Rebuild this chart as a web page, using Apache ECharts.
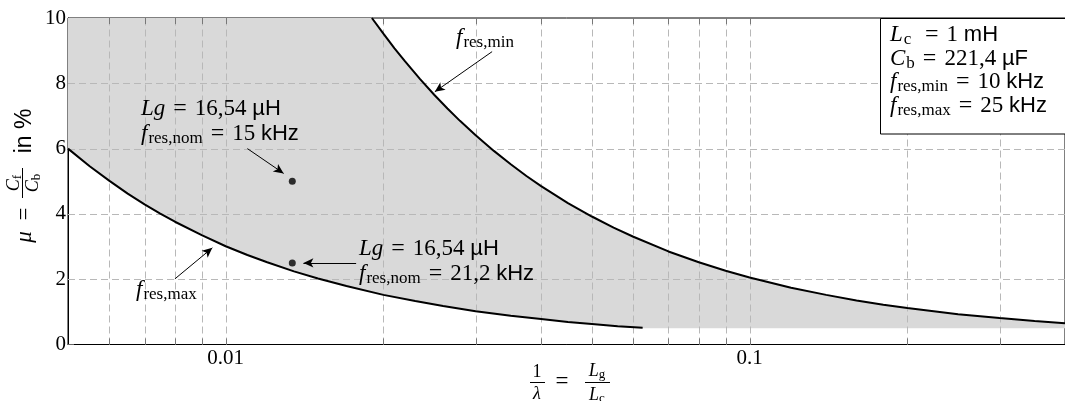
<!DOCTYPE html>
<html>
<head>
<meta charset="utf-8">
<script src="https://cdn.jsdelivr.net/npm/echarts@6/dist/echarts.min.js"></script>
<style>
html, body { margin: 0; padding: 0; background: #fff; }
#chart { width: 1065px; height: 401px; }
</style>
</head>
<body>
<div id="chart"></div>
<script>
// curves (x = Lg/Lc, mu in %)
var fMaxX = [0.005, 0.0055, 0.006, 0.0065, 0.007, 0.0075, 0.008, 0.009, 0.01, 0.011, 0.012, 0.0135, 0.015, 0.017, 0.02, 0.023, 0.026, 0.03, 0.035, 0.04, 0.045, 0.05, 0.056, 0.0625]
var fMaxMu = [6.00, 5.46, 5.01, 4.62, 4.29, 4.01, 3.76, 3.35, 3.01, 2.74, 2.52, 2.24, 2.02, 1.79, 1.52, 1.33, 1.18, 1.02, 0.88, 0.78, 0.69, 0.63, 0.56, 0.51]
var fMinX = [0.01901, 0.02, 0.021, 0.022, 0.0235, 0.025, 0.0265, 0.028, 0.03, 0.0325, 0.035, 0.0375, 0.04, 0.045, 0.05, 0.055, 0.06, 0.07, 0.08, 0.09, 0.1, 0.12, 0.14, 0.16, 0.18, 0.2, 0.25, 0.3, 0.35, 0.4]
var fMinMu = [10.0, 9.52, 9.07, 8.67, 8.13, 7.65, 7.23, 6.85, 6.41, 5.93, 5.52, 5.16, 4.85, 4.33, 3.92, 3.58, 3.30, 2.85, 2.52, 2.26, 2.05, 1.74, 1.52, 1.35, 1.22, 1.12, 0.93, 0.81, 0.72, 0.65]
var bandCeil = 10
var bandFloor = 0.5
var nomX = [0.0134, 0.0134]
var nomMu = [5.0, 2.5]

// axes
var xMin = 0.005
var xMax = 0.4
var xGridVals = [0.006, 0.007, 0.008, 0.009, 0.01, 0.02, 0.03, 0.04, 0.05, 0.06, 0.07, 0.08, 0.09, 0.1, 0.2, 0.3]
var xTickVals = [0.01, 0.1]
var xTickLabels = ['0.01', '0.1']
var yGridVals = [2, 4, 6, 8]

// annotation arrows [from, to] in data units
var arrows = [
  [[0.0110, 6.0], [0.0129, 5.24]],
  [[0.01774, 2.5], [0.01407, 2.5]],
  [[0.0080, 2.01], [0.00943, 2.96]],
  [[0.03225, 8.97], [0.02507, 7.74]]
]

var SERIF = '"Liberation Serif", serif'
var SANS = '"Liberation Sans", sans-serif'
var GRIDCOL = '#b8b8b8'

var rich = {
  m: { fontFamily: SERIF, fontStyle: 'italic', fontSize: 23, color: '#000' },
  r: { fontFamily: SERIF, fontSize: 23, color: '#000' },
  e: { fontFamily: SERIF, fontSize: 24, color: '#000', padding: [0, 8, 0, 8] },
  s: { fontFamily: SERIF, fontSize: 17, color: '#000', padding: [10, 0, 0, 1] },
  u: { fontFamily: SANS, fontSize: 22, color: '#000' }
}
var richSmall = {
  m: { fontFamily: SERIF, fontStyle: 'italic', fontSize: 18, color: '#000' },
  r: { fontFamily: SERIF, fontSize: 18, color: '#000' },
  s: { fontFamily: SERIF, fontSize: 13, color: '#000', padding: [7, 0, 0, 0] }
}

function txt (x, y, text, opts) {
  return {
    type: 'text', x: x, y: y, z: 120,
    style: Object.assign({ text: text, rich: rich, align: 'left', verticalAlign: 'middle', fill: '#000' }, opts || {})
  }
}

function zip (a, b) {
  return a.map(function (v, i) { return [v, b[i]] })
}

var chart = echarts.init(document.getElementById('chart'))

var option = {
  animation: false,
  grid: { left: 68, top: 18, right: -7, bottom: 56.5, show: true, borderColor: '#000', borderWidth: 1, backgroundColor: 'transparent' },
  xAxis: {
    type: 'log', logBase: 10, min: xMin, max: xMax,
    axisLine: { lineStyle: { color: '#000', width: 1 } },
    axisTick: { show: false },
    splitLine: { show: false },
    axisLabel: {
      color: '#000', fontFamily: SERIF, fontSize: 21, margin: 3,
      showMinLabel: false, showMaxLabel: false,
      formatter: function (v) {
        for (var i = 0; i < xTickVals.length; i++) {
          if (Math.abs(v / xTickVals[i] - 1) < 1e-6) return xTickLabels[i]
        }
        return ''
      }
    }
  },
  yAxis: {
    type: 'value', min: 0, max: 10, interval: 2,
    axisLine: { show: true, lineStyle: { color: '#000', width: 1 } },
    axisTick: { show: true, inside: true, length: 6, lineStyle: { color: '#666' } },
    splitLine: { show: false },
    axisLabel: { color: '#000', fontFamily: SERIF, fontSize: 21, margin: 2 }
  },
  series: [
    {
      // shaded feasible region
      type: 'custom', z: 1, silent: true,
      data: [[xMin, bandCeil]],
      renderItem: function (params, api) {
        var pts = []
        var i
        pts.push(api.coord([fMaxX[0], bandCeil]))
        pts.push(api.coord([fMinX[0], bandCeil]))
        for (i = 0; i < fMinX.length; i++) pts.push(api.coord([fMinX[i], fMinMu[i]]))
        pts.push(api.coord([fMinX[fMinX.length - 1], bandFloor]))
        pts.push(api.coord([fMaxX[fMaxX.length - 1], bandFloor]))
        for (i = fMaxX.length - 1; i >= 0; i--) pts.push(api.coord([fMaxX[i], fMaxMu[i]]))
        return { type: 'polygon', shape: { points: pts }, style: { fill: '#d9d9d9' } }
      }
    },
    {
      // vertical grid + minor ticks
      type: 'custom', z: 2, silent: true,
      data: xGridVals.map(function (v) { return [v, 0] }),
      renderItem: function (params, api) {
        var cs = params.coordSys
        var x = Math.round(api.coord([api.value(0), 0])[0]) + 0.5
        var b = cs.y + cs.height
        return {
          type: 'group',
          children: [
            { type: 'line', shape: { x1: x, y1: b, x2: x, y2: cs.y }, style: { stroke: GRIDCOL, lineWidth: 1, lineDash: [7, 4] } },
            { type: 'line', shape: { x1: x, y1: b, x2: x, y2: b - 6 }, style: { stroke: '#777', lineWidth: 1 } },
            { type: 'line', shape: { x1: x, y1: cs.y, x2: x, y2: cs.y + 6 }, style: { stroke: '#777', lineWidth: 1 } }
          ]
        }
      }
    },
    {
      // horizontal grid
      type: 'custom', z: 2, silent: true,
      data: yGridVals.map(function (v) { return [xMin, v] }),
      renderItem: function (params, api) {
        var cs = params.coordSys
        var y = Math.round(api.coord([xMin, api.value(1)])[1]) + 0.5
        return { type: 'line', shape: { x1: cs.x, y1: y, x2: cs.x + cs.width, y2: y }, style: { stroke: GRIDCOL, lineWidth: 1, lineDash: [7, 4] } }
      }
    },
    {
      name: 'fres,max', type: 'line', z: 3, silent: true, showSymbol: false,
      data: zip(fMaxX, fMaxMu),
      lineStyle: { color: '#000', width: 2 }
    },
    {
      name: 'fres,min', type: 'line', z: 3, silent: true, showSymbol: false,
      data: zip(fMinX, fMinMu),
      lineStyle: { color: '#000', width: 2 }
    },
    {
      name: 'nominal', type: 'scatter', z: 4, silent: true,
      data: zip(nomX, nomMu),
      symbolSize: 7,
      itemStyle: { color: '#000' },
      markLine: {
        silent: true, animation: false,
        symbol: ['none', 'arrow'], symbolSize: [7, 10],
        label: { show: false },
        lineStyle: { color: '#000', width: 1, type: 'solid' },
        data: arrows.map(function (a) { return [{ coord: a[0] }, { coord: a[1] }] })
      }
    }
  ],
  graphic: [
    // parameter box
    { type: 'rect', z: 110, shape: { x: 880.5, y: 18.5, width: 220, height: 115.5 }, style: { fill: '#fff', stroke: '#000', lineWidth: 1 } },
    txt(890, 35, '{m|L}{s|c}{r| }{e|=}{r|1 }{u|mH}'),
    txt(890, 58.5, '{m|C}{s|b}{e|=}{r|221,4 }{u|µF}'),
    txt(890, 82, '{m|f}{s|res,min}{e|=}{r|10 }{u|kHz}'),
    txt(890, 105.5, '{m|f}{s|res,max}{e|=}{r|25 }{u|kHz}'),

    // annotations
    txt(141, 109, '{m|Lg}{e|=}{r|16,54 }{u|µH}'),
    txt(141, 134, '{m|f}{s|res,nom}{e|=}{r|15 }{u|kHz}'),
    txt(359, 249, '{m|Lg}{e|=}{r|16,54 }{u|µH}'),
    txt(359, 273.5, '{m|f}{s|res,nom}{e|=}{r|21,2 }{u|kHz}'),
    txt(136, 290, '{m|f}{s|res,max}'),
    txt(456, 38, '{m|f}{s|res,min}'),

    // x axis title: 1/lambda = Lg/Lc
    txt(537, 372, '{r|1}', { rich: richSmall, align: 'center' }),
    { type: 'line', z: 120, shape: { x1: 530, y1: 382.5, x2: 545, y2: 382.5 }, style: { stroke: '#000', lineWidth: 1 } },
    txt(537, 394, '{m|λ}', { rich: richSmall, align: 'center' }),
    txt(562, 382, '{r|=}', { align: 'center' }),
    txt(597, 371, '{m|L}{s|g}', { rich: richSmall, align: 'center' }),
    { type: 'line', z: 120, shape: { x1: 585, y1: 382.5, x2: 610, y2: 382.5 }, style: { stroke: '#000', lineWidth: 1 } },
    txt(597, 395, '{m|L}{s|c}', { rich: richSmall, align: 'center' }),

    // y axis title: mu = Cf/Cb in %
    {
      type: 'group', x: 25, y: 175, rotation: Math.PI / 2, z: 120,
      children: [
        { type: 'text', x: -62, y: 0, style: { text: 'μ', font: 'italic 23px "Liberation Serif"', align: 'center', verticalAlign: 'middle', fill: '#000' } },
        { type: 'text', x: -39, y: 0, style: { text: '=', font: '23px "Liberation Serif"', align: 'center', verticalAlign: 'middle', fill: '#000' } },
        { type: 'text', x: -8, y: -11, style: { text: '{m|C}{s|f}', rich: richSmall, align: 'center', verticalAlign: 'middle', fill: '#000' } },
        { type: 'line', shape: { x1: -23, y1: -2.5, x2: 7, y2: -2.5 }, style: { stroke: '#000', lineWidth: 1 } },
        { type: 'text', x: -8, y: 8, style: { text: '{m|C}{s|b}', rich: richSmall, align: 'center', verticalAlign: 'middle', fill: '#000' } },
        { type: 'text', x: 44, y: 0, style: { text: 'in %', font: '23px "Liberation Sans"', align: 'center', verticalAlign: 'middle', fill: '#000' } }
      ]
    }
  ]
}

chart.setOption(option)
</script>
</body>
</html>
